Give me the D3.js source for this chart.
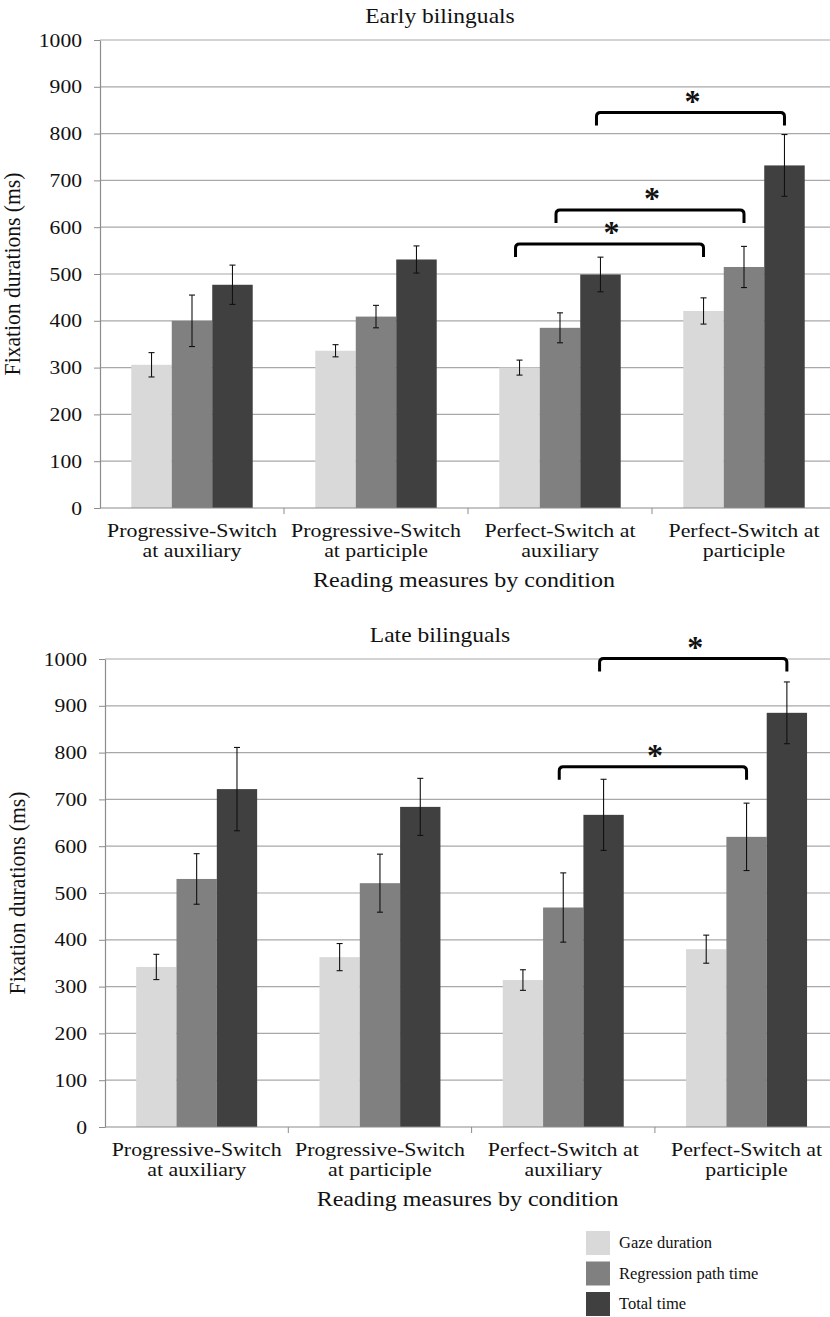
<!DOCTYPE html>
<html>
<head>
<meta charset="utf-8">
<script src="https://cdn.jsdelivr.net/npm/d3@7"></script>
<style>
  body { margin: 0; background: #fff; }
  svg { display: block; }
  text { font-family: "Liberation Serif", "Times New Roman", serif; fill: #111; }
</style>
</head>
<body>
<script>
// categories (two-line tick labels)
var categories = ["PS-aux", "PS-part", "PF-aux", "PF-part"];
var categoryLines = [
    ["Progressive-Switch", "at auxiliary"],
    ["Progressive-Switch", "at participle"],
    ["Perfect-Switch at", "auxiliary"],
    ["Perfect-Switch at", "participle"]
];
var series = ["Gaze duration", "Regression path time", "Total time"];
var colors = ["#d9d9d9", "#808080", "#404040"];
var yTicks = [0, 100, 200, 300, 400, 500, 600, 700, 800, 900, 1000];

// Early bilinguals: mean and error per category, per series
var earlyMeans = [[306, 400, 477], [336, 409, 531], [300, 385, 499], [421, 515, 732]];
var earlyErrors = [[26, 55, 42], [13, 24, 29], [16, 32, 37], [28, 44, 66]];
// Late bilinguals
var lateMeans = [[342, 530, 722], [363, 521, 684], [314, 469, 667], [380, 620, 885]];
var lateErrors = [[27, 54, 89], [29, 62, 61], [22, 74, 76], [30, 72, 66]];

// significance brackets: [category, series] -> [category, series], bracket top value
var earlyBrackets = [
    { from: [2, 2], to: [3, 2], level: 845 },
    { from: [2, 1], to: [3, 1], level: 637 },
    { from: [2, 0], to: [3, 0], level: 564 }
];
var lateBrackets = [
    { from: [2, 2], to: [3, 2], level: 1001 },
    { from: [2, 1], to: [3, 1], level: 770 }
];

var W = 830, H = 1317;
var SX = 1.18; // horizontal stretch of the original chart text

var svg = d3.select("body").append("svg")
    .attr("width", W)
    .attr("height", H);

// text helper: places a horizontally stretched label
function label(g, str, x, y, size, anchor, sx) {
    return g.append("text")
        .attr("transform", "translate(" + x + "," + y + ") scale(" + (sx || SX) + ",1)")
        .attr("text-anchor", anchor || "middle")
        .attr("font-size", size)
        .text(str);
}

function drawChart(opt) {
    var g = svg.append("g");
    var left = opt.left, top = opt.top, bottom = opt.bottom;

    var x = d3.scaleBand()
        .domain(categories)
        .range([left, left + 4 * opt.band]);
    var pad = x.bandwidth() * 0.17;
    var xSub = d3.scaleBand()
        .domain(series)
        .range([pad, x.bandwidth() - pad]);
    var y = d3.scaleLinear()
        .domain([0, 1000])
        .range([bottom, top]);

    // gridlines
    g.append("g").selectAll("line")
        .data(yTicks.filter(function (d) { return d > 0; }))
        .enter().append("line")
        .attr("x1", left).attr("x2", W)
        .attr("y1", function (d) { return y(d); })
        .attr("y2", function (d) { return y(d); })
        .attr("stroke", "#a8a8a8")
        .attr("stroke-width", 1.2);

    // Y axis
    var yAxis = d3.axisLeft(y)
        .tickValues(yTicks)
        .tickSizeInner(6)
        .tickSizeOuter(0)
        .tickFormat(d3.format("d"));
    var ya = g.append("g")
        .attr("transform", "translate(" + left + ",0)")
        .call(yAxis);
    ya.select(".domain").attr("stroke", "#8c8c8c").attr("stroke-width", 1.2);
    ya.selectAll(".tick line").attr("stroke", "#8c8c8c");
    ya.selectAll(".tick text").remove();
    ya.selectAll(".tick").each(function (d) {
        label(d3.select(this), d, -18, 6, 18, "end", 1.2);
    });

    // bars
    var rows = [];
    opt.means.forEach(function (vals, i) {
        vals.forEach(function (v, j) {
            rows.push({ cat: categories[i], s: series[j], j: j, v: v, e: opt.errors[i][j] });
        });
    });
    g.append("g").selectAll("rect")
        .data(rows)
        .enter().append("rect")
        .attr("x", function (d) { return x(d.cat) + xSub(d.s); })
        .attr("y", function (d) { return y(d.v); })
        .attr("width", xSub.bandwidth())
        .attr("height", function (d) { return y(0) - y(d.v); })
        .attr("fill", function (d) { return colors[d.j]; });

    // error bars
    var eb = g.append("g").selectAll("g")
        .data(rows)
        .enter().append("g")
        .attr("transform", function (d) {
            return "translate(" + (x(d.cat) + xSub(d.s) + xSub.bandwidth() / 2) + ",0)";
        })
        .attr("stroke", "#111")
        .attr("stroke-width", 1.1);
    eb.append("line")
        .attr("y1", function (d) { return y(d.v + d.e); })
        .attr("y2", function (d) { return y(d.v - d.e); });
    eb.append("line")
        .attr("x1", -3).attr("x2", 3)
        .attr("y1", function (d) { return y(d.v + d.e); })
        .attr("y2", function (d) { return y(d.v + d.e); });
    eb.append("line")
        .attr("x1", -3).attr("x2", 3)
        .attr("y1", function (d) { return y(d.v - d.e); })
        .attr("y2", function (d) { return y(d.v - d.e); });

    // X axis line and category boundary ticks
    g.append("line")
        .attr("x1", left).attr("x2", W)
        .attr("y1", bottom).attr("y2", bottom)
        .attr("stroke", "#8c8c8c").attr("stroke-width", 1.2);
    g.append("g").selectAll("line")
        .data(categories.slice(1).concat(["end"]))
        .enter().append("line")
        .attr("x1", function (d) { return d === "end" ? x.range()[1] : x(d); })
        .attr("x2", function (d) { return d === "end" ? x.range()[1] : x(d); })
        .attr("y1", bottom).attr("y2", bottom + 6)
        .attr("stroke", "#8c8c8c");

    // category labels
    categories.forEach(function (c, i) {
        var cx = x(c) + x.bandwidth() / 2;
        categoryLines[i].forEach(function (line, k) {
            label(g, line, cx, bottom + 29 + k * 20, 19, "middle", 1.15);
        });
    });

    // axis titles and chart title
    label(g, "Reading measures by condition", (left + x.range()[1]) / 2 - 4, bottom + 79, 20, "middle", 1.2);
    label(g, opt.title, 440, top - 17, 21, "middle", 1.12);
    g.append("text")
        .attr("transform", "translate(" + (opt.left - 80) + "," + ((top + bottom) / 2) + ") rotate(-90) scale(1.08,1.2)")
        .attr("text-anchor", "middle")
        .attr("font-size", 20)
        .text("Fixation durations (ms)");

    // significance brackets
    var bx = function (p) {
        return x(categories[p[0]]) + xSub(series[p[1]]) + xSub.bandwidth() / 2;
    };
    var bg = g.append("g").selectAll("g")
        .data(opt.brackets)
        .enter().append("g");
    bg.append("path")
        .attr("fill", "none")
        .attr("stroke", "#000")
        .attr("stroke-width", 3)
        .attr("d", function (d) {
            var x1 = bx(d.from) - 4, x2 = bx(d.to), yt = y(d.level), yl = yt + 13, r = 4;
            return "M" + x1 + "," + yl + "L" + x1 + "," + (yt + r) +
                "Q" + x1 + "," + yt + " " + (x1 + r) + "," + yt +
                "L" + (x2 - r) + "," + yt +
                "Q" + x2 + "," + yt + " " + x2 + "," + (yt + r) +
                "L" + x2 + "," + yl;
        });
    bg.append("text")
        .attr("x", function (d) { return (bx(d.from) + bx(d.to)) / 2; })
        .attr("y", function (d) { return y(d.level) - 1; })
        .attr("text-anchor", "middle")
        .attr("font-family", "DejaVu Sans, sans-serif")
        .attr("font-weight", "bold")
        .attr("font-size", 32)
        .text("*");
}

drawChart({ title: "Early bilinguals", left: 100, top: 40, bottom: 508, band: 184,
    means: earlyMeans, errors: earlyErrors, brackets: earlyBrackets });
drawChart({ title: "Late bilinguals", left: 105, top: 659, bottom: 1127, band: 183.3,
    means: lateMeans, errors: lateErrors, brackets: lateBrackets });

// legend
var legend = svg.append("g").attr("transform", "translate(586,1231)");
var li = legend.selectAll("g")
    .data(series)
    .enter().append("g")
    .attr("transform", function (d, i) { return "translate(0," + (i * 30.5) + ")"; });
li.append("rect")
    .attr("width", 24).attr("height", 24)
    .attr("fill", function (d, i) { return colors[i]; });
li.append("text")
    .attr("x", 33).attr("y", 17)
    .attr("font-size", 16.5)
    .text(function (d) { return d; });
</script>
</body>
</html>
